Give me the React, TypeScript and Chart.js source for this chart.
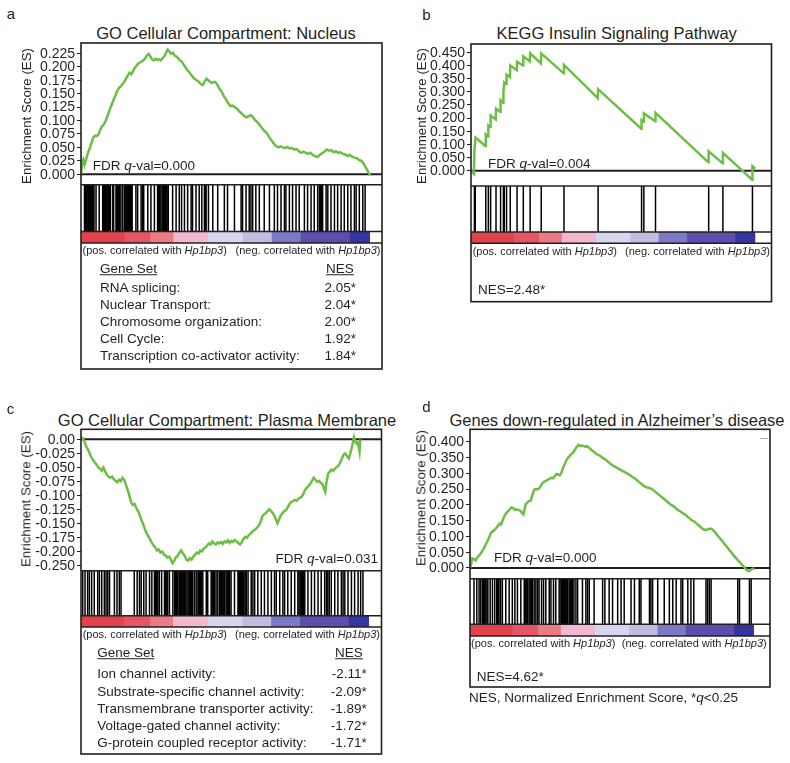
import React, { useEffect, useRef } from 'react';
import { Chart, registerables } from 'chart.js';

Chart.register(...registerables);

const FONT = '"Liberation Sans", Arial, Helvetica, sans-serif';
const CANVAS_FONT = "'Liberation Sans', Arial, sans-serif";
const INK = '#231f20';
const GREEN = '#6cbe45';

// ---------------- data ----------------
// running enrichment score: [rank in ordered gene list (0-1000), ES]
const esA: [number, number][] = [
  [0, 0.0], [4, 0.024], [8, 0.028], [12, 0.018], [18, 0.028], [24, 0.04], [30, 0.048], [36, 0.058], [42, 0.068], [48, 0.072],
  [54, 0.071], [60, 0.074], [66, 0.082], [72, 0.089], [78, 0.092], [84, 0.098], [90, 0.106], [96, 0.115], [102, 0.124], [108, 0.132],
  [114, 0.14], [120, 0.148], [126, 0.156], [132, 0.161], [138, 0.164], [144, 0.168], [150, 0.172], [156, 0.178], [162, 0.184], [168, 0.189],
  [174, 0.186], [180, 0.192], [186, 0.198], [192, 0.202], [198, 0.206], [204, 0.208], [210, 0.21], [216, 0.212], [222, 0.216], [228, 0.221],
  [234, 0.224], [240, 0.219], [246, 0.214], [252, 0.212], [258, 0.215], [264, 0.213], [270, 0.214], [276, 0.212], [282, 0.216], [288, 0.219],
  [294, 0.226], [300, 0.232], [306, 0.228], [312, 0.224], [318, 0.226], [324, 0.221], [330, 0.219], [336, 0.216], [342, 0.212], [348, 0.21],
  [354, 0.205], [360, 0.2], [368, 0.194], [376, 0.189], [384, 0.183], [392, 0.178], [400, 0.175], [408, 0.172], [416, 0.167], [422, 0.166],
  [428, 0.173], [434, 0.178], [440, 0.175], [446, 0.172], [452, 0.17], [458, 0.171], [464, 0.172], [470, 0.168], [478, 0.16], [486, 0.154],
  [494, 0.146], [502, 0.139], [510, 0.132], [516, 0.127], [524, 0.128], [532, 0.125], [540, 0.122], [548, 0.117], [556, 0.113], [564, 0.109],
  [572, 0.106], [580, 0.108], [588, 0.11], [594, 0.107], [602, 0.101], [610, 0.097], [618, 0.092], [626, 0.086], [634, 0.081], [642, 0.077],
  [650, 0.07], [658, 0.064], [666, 0.058], [674, 0.053], [682, 0.05], [690, 0.052], [698, 0.05], [706, 0.049], [714, 0.051], [722, 0.048],
  [730, 0.049], [738, 0.046], [746, 0.047], [754, 0.043], [762, 0.04], [770, 0.042], [778, 0.04], [786, 0.038], [794, 0.04], [802, 0.036],
  [810, 0.034], [818, 0.032], [826, 0.036], [834, 0.039], [842, 0.042], [850, 0.046], [858, 0.044], [866, 0.045], [874, 0.041], [882, 0.043],
  [890, 0.04], [898, 0.041], [906, 0.038], [914, 0.037], [922, 0.034], [930, 0.036], [938, 0.033], [946, 0.031], [954, 0.03], [962, 0.027],
  [970, 0.025], [978, 0.02], [986, 0.012], [994, 0.004], [1000, -0.002],
];

const esB: [number, number][] = [
  [0, 0.0], [10, -0.012], [12, 0.078], [16, 0.126], [50, 0.094], [52, 0.138], [60, 0.13], [61, 0.172], [68, 0.166], [69, 0.21],
  [87, 0.195], [88, 0.236], [103, 0.224], [104, 0.268], [113, 0.258], [114, 0.3], [117, 0.336], [124, 0.33], [125, 0.365], [137, 0.356],
  [138, 0.4], [161, 0.382], [162, 0.414], [183, 0.4], [184, 0.434], [207, 0.416], [208, 0.446], [246, 0.408], [247, 0.446], [326, 0.37],
  [327, 0.402], [446, 0.276], [447, 0.31], [599, 0.16], [600, 0.192], [607, 0.186], [608, 0.218], [648, 0.188], [649, 0.22], [835, 0.032],
  [836, 0.074], [885, 0.028], [886, 0.068], [989, -0.034], [990, 0.018], [1000, 0.008],
];

const esC: [number, number][] = [
  [0, 0.0], [6, 0.002], [12, -0.004], [18, -0.014], [24, -0.02], [30, -0.028], [36, -0.036], [42, -0.041], [48, -0.046], [54, -0.05],
  [60, -0.056], [66, -0.058], [72, -0.062], [78, -0.056], [84, -0.064], [90, -0.07], [96, -0.074], [102, -0.076], [108, -0.074], [114, -0.079],
  [120, -0.082], [126, -0.085], [132, -0.08], [138, -0.083], [144, -0.076], [150, -0.08], [156, -0.09], [162, -0.1], [168, -0.112], [174, -0.124],
  [180, -0.13], [186, -0.128], [192, -0.136], [198, -0.142], [204, -0.15], [210, -0.16], [216, -0.168], [222, -0.178], [228, -0.186], [234, -0.192],
  [240, -0.198], [246, -0.205], [252, -0.21], [258, -0.214], [264, -0.22], [270, -0.218], [276, -0.224], [282, -0.222], [288, -0.228], [294, -0.23],
  [300, -0.234], [306, -0.232], [312, -0.238], [318, -0.245], [324, -0.24], [330, -0.233], [336, -0.23], [342, -0.224], [348, -0.22], [354, -0.226],
  [360, -0.23], [366, -0.238], [372, -0.24], [378, -0.235], [384, -0.238], [390, -0.232], [396, -0.228], [402, -0.224], [408, -0.226], [414, -0.22],
  [420, -0.222], [426, -0.216], [432, -0.214], [438, -0.21], [444, -0.206], [450, -0.208], [456, -0.202], [462, -0.206], [468, -0.208], [474, -0.204],
  [480, -0.206], [486, -0.203], [492, -0.207], [498, -0.202], [504, -0.204], [510, -0.2], [516, -0.205], [522, -0.201], [528, -0.203], [534, -0.199],
  [540, -0.202], [546, -0.205], [552, -0.208], [558, -0.204], [564, -0.197], [570, -0.193], [576, -0.195], [582, -0.19], [588, -0.187], [594, -0.183],
  [600, -0.18], [606, -0.178], [612, -0.174], [618, -0.17], [624, -0.162], [630, -0.152], [636, -0.148], [642, -0.146], [648, -0.142], [654, -0.138],
  [660, -0.142], [666, -0.146], [672, -0.152], [678, -0.16], [682, -0.166], [688, -0.158], [694, -0.15], [700, -0.146], [706, -0.142], [712, -0.14],
  [718, -0.134], [724, -0.128], [730, -0.124], [736, -0.122], [742, -0.12], [748, -0.122], [754, -0.118], [760, -0.116], [766, -0.114], [772, -0.108],
  [778, -0.1], [784, -0.096], [790, -0.092], [796, -0.088], [802, -0.082], [808, -0.076], [814, -0.08], [820, -0.084], [826, -0.082], [832, -0.086],
  [838, -0.088], [844, -0.098], [848, -0.104], [852, -0.086], [858, -0.068], [864, -0.064], [870, -0.06], [876, -0.062], [882, -0.058], [888, -0.055],
  [894, -0.052], [900, -0.046], [906, -0.038], [912, -0.03], [918, -0.028], [924, -0.034], [930, -0.038], [936, -0.026], [942, -0.012], [948, 0.004],
  [952, -0.004], [956, -0.008], [960, -0.006], [964, -0.014], [967, -0.024], [970, 0.0],
];

const esD: [number, number][] = [
  [0, 0.0], [4, 0.012], [8, 0.03], [14, 0.028], [20, 0.024], [26, 0.034], [32, 0.04], [38, 0.046], [44, 0.056], [50, 0.064],
  [56, 0.076], [62, 0.086], [68, 0.098], [74, 0.112], [80, 0.116], [86, 0.12], [92, 0.126], [98, 0.134], [104, 0.14], [110, 0.138],
  [116, 0.154], [122, 0.166], [128, 0.174], [134, 0.18], [140, 0.186], [146, 0.192], [152, 0.19], [158, 0.184], [164, 0.186], [170, 0.184],
  [176, 0.182], [182, 0.176], [188, 0.17], [192, 0.186], [196, 0.202], [202, 0.208], [208, 0.212], [214, 0.214], [220, 0.232], [226, 0.248],
  [232, 0.25], [238, 0.249], [244, 0.252], [250, 0.262], [256, 0.27], [262, 0.274], [268, 0.276], [274, 0.28], [280, 0.282], [286, 0.286],
  [292, 0.284], [298, 0.29], [304, 0.298], [310, 0.296], [316, 0.294], [322, 0.302], [328, 0.318], [334, 0.33], [340, 0.342], [346, 0.35],
  [352, 0.356], [358, 0.362], [364, 0.366], [370, 0.376], [376, 0.384], [382, 0.39], [388, 0.386], [394, 0.388], [400, 0.386], [406, 0.384],
  [412, 0.386], [418, 0.382], [424, 0.377], [430, 0.372], [436, 0.368], [444, 0.362], [452, 0.358], [460, 0.354], [468, 0.348], [476, 0.344],
  [484, 0.338], [492, 0.332], [500, 0.326], [508, 0.322], [516, 0.318], [524, 0.314], [532, 0.31], [540, 0.306], [548, 0.302], [556, 0.298],
  [564, 0.294], [572, 0.288], [580, 0.284], [588, 0.278], [596, 0.272], [604, 0.266], [612, 0.26], [620, 0.256], [628, 0.254], [636, 0.252],
  [644, 0.248], [652, 0.242], [660, 0.236], [668, 0.23], [676, 0.224], [684, 0.218], [692, 0.212], [700, 0.206], [708, 0.2], [716, 0.196],
  [724, 0.19], [732, 0.184], [740, 0.18], [748, 0.174], [756, 0.17], [764, 0.164], [772, 0.158], [780, 0.152], [788, 0.148], [796, 0.142],
  [804, 0.136], [812, 0.13], [820, 0.124], [828, 0.12], [836, 0.122], [844, 0.124], [850, 0.124], [856, 0.12], [864, 0.112], [872, 0.102],
  [880, 0.094], [888, 0.086], [896, 0.076], [904, 0.068], [912, 0.058], [920, 0.05], [928, 0.04], [936, 0.032], [944, 0.024], [952, 0.016],
  [960, 0.008], [968, 0.0], [976, -0.008], [982, -0.01], [988, -0.006], [994, -0.004], [1000, 0.0],
];

// gene-set members (hits) along the ranked list
const hitsA = [
  12, 15, 18, 21, 24, 27, 30, 33, 36, 39, 42, 45, 52, 63, 75, 78, 81, 84, 87, 90, 93, 96, 99, 102, 110, 113, 121, 124, 127, 130,
  133, 138, 144, 150, 153, 156, 159, 162, 165, 168, 171, 174, 177, 190, 196, 208, 213, 217, 231, 242, 254, 265, 268, 271, 274, 280,
  283, 286, 289, 292, 295, 298, 302, 317, 329, 340, 348, 358, 369, 381, 386, 398, 409, 418, 427, 430, 433, 441, 456, 473, 496, 507,
  531, 554, 559, 571, 582, 588, 594, 605, 617, 634, 652, 669, 680, 692, 704, 709, 721, 732, 744, 755, 773, 784, 796, 807, 819, 825,
  829, 833, 836, 848, 854, 865, 877, 888, 900, 911, 923, 934, 946, 952, 963, 975, 983,
];
const hitsB = [12, 15, 52, 61, 69, 88, 104, 114, 117, 125, 138, 162, 184, 208, 247, 327, 447, 600, 608, 649, 836, 886, 990];
const hitsC = [
  6, 14, 23, 29, 37, 46, 58, 64, 72, 81, 87, 93, 99, 116, 125, 133, 139, 185, 195, 203, 209, 218, 226, 238, 246, 255, 258, 261, 264,
  267, 272, 280, 290, 294, 298, 301, 307, 319, 325, 328, 331, 334, 337, 342, 345, 348, 351, 354, 357, 360, 364, 368, 372, 376, 380,
  384, 388, 394, 400, 406, 409, 412, 415, 418, 423, 435, 440, 452, 455, 458, 461, 464, 469, 475, 481, 484, 487, 490, 493, 496, 499,
  504, 508, 512, 516, 521, 533, 545, 548, 551, 554, 557, 560, 563, 566, 570, 574, 580, 591, 597, 603, 614, 626, 637, 649, 661, 672,
  678, 690, 701, 707, 718, 730, 742, 753, 757, 761, 765, 769, 773, 777, 788, 800, 811, 823, 834, 846, 852, 857, 862, 869, 881, 892,
  904, 910, 916, 927, 939, 950, 962, 971, 979,
];
const hitsD = [
  14, 24, 32, 38, 44, 47, 50, 53, 56, 60, 63, 71, 79, 87, 94, 97, 100, 102, 108, 114, 126, 138, 149, 158, 167, 179, 191, 194, 197,
  200, 203, 208, 212, 216, 220, 226, 232, 238, 243, 252, 259, 267, 279, 285, 294, 302, 314, 320, 323, 326, 329, 332, 335, 338, 341,
  344, 349, 353, 357, 361, 366, 373, 379, 396, 408, 414, 420, 437, 467, 475, 490, 502, 520, 532, 543, 567, 579, 596, 602, 632, 637,
  643, 661, 684, 702, 714, 726, 743, 749, 767, 778, 788, 831, 837, 843, 849, 943, 949, 984, 990,
];

// y tick labels (as printed, low to high)
const ticksA = ['0.000', '0.025', '0.050', '0.075', '0.100', '0.125', '0.150', '0.175', '0.200', '0.225'];
const ticksB = ['0.000', '0.050', '0.100', '0.150', '0.200', '0.250', '0.300', '0.350', '0.400', '0.450'];
const ticksC = ['-0.250', '-0.200', '-0.175', '-0.150', '-0.125', '-0.100', '-0.075', '-0.050', '-0.025', '0.00'];
const ticksD = ['0.000', '0.050', '0.100', '0.150', '0.200', '0.250', '0.300', '0.350', '0.400'];

// ranked-list colour bar (block start ranks and colours)
const colorBlockStarts = [0, 150, 240, 320, 440, 560, 660, 760, 930];
const colorBlockColors = ['#e2434b', '#e65565', '#ec7a84', '#f2b8d2', '#d8d6ee', '#c2bce0', '#7c7ac4', '#5a4eae', '#3434a2'];

const geneSetsA = ['RNA splicing:', 'Nuclear Transport:', 'Chromosome organization:', 'Cell Cycle:', 'Transcription co-activator activity:'];
const nesA = ['2.05*', '2.04*', '2.00*', '1.92*', '1.84*'];
const geneSetsC = [
  'Ion channel activity:',
  'Substrate-specific channel activity:',
  'Transmembrane transporter activity:',
  'Voltage-gated channel activity:',
  'G-protein coupled receptor activity:',
];
const nesC = ['-2.11*', '-2.09*', '-1.89*', '-1.72*', '-1.71*'];

// ---------------- layout ----------------
type Geo = {
  boxLeft: number; boxRight: number; boxTop: number; esBottom: number; hitsBottom: number;
  barBottom: number; boxBottom: number; yMin: number; yMax: number; xMax: number;
};

const geoA: Geo = { boxLeft: 81, boxRight: 382, boxTop: 43, esBottom: 184.7, hitsBottom: 231.5, barBottom: 243, boxBottom: 369, yMin: -0.0193, yMax: 0.2442, xMax: 1041.5 };
const geoB: Geo = { boxLeft: 471, boxRight: 771.5, boxTop: 44, esBottom: 186, hitsBottom: 232, barBottom: 243.3, boxBottom: 301.7, yMin: -0.058, yMax: 0.4816, xMax: 1057 };
const geoC: Geo = { boxLeft: 81, boxRight: 381.5, boxTop: 429.3, esBottom: 570.7, hitsBottom: 615.7, barBottom: 627, boxBottom: 754, yMin: -0.2599, yMax: 0.0198, xMax: 1043.4 };
const geoD: Geo = { boxLeft: 470, boxRight: 770, boxTop: 429.3, esBottom: 578.7, hitsBottom: 624.3, barBottom: 636, boxBottom: 687, yMin: -0.0339, yMax: 0.4393, xMax: 1056.4 };

const AXIS_W = 81;
const TICK_LEN = 4;
const TICK_FONT_PX = 14;

function GseaChart({ es, hits, labels, geo }: { es: [number, number][]; hits: number[]; labels: string[]; geo: Geo }) {
  const ref = useRef<HTMLCanvasElement>(null);
  const cLeft = geo.boxLeft - AXIS_W;
  const cTop = Math.round(geo.boxTop) - 14;
  const padTop = geo.boxTop - cTop;
  const cW = Math.ceil(geo.boxRight - cLeft) + 3;
  const cH = Math.ceil(geo.boxBottom - cTop) + 3;

  useEffect(() => {
    if (!ref.current) return;
    const rel = (y: number) => y - cTop;
    const lo = parseFloat(labels[0]);
    const hi = parseFloat(labels[labels.length - 1]);

    const decor = {
      id: 'gseaDecor',
      beforeDatasetsDraw(chart: any) {
        const { ctx, chartArea: a, scales } = chart;
        const y0 = scales.y.getPixelForValue(0);
        ctx.save();
        ctx.strokeStyle = INK;
        ctx.lineWidth = 2;
        ctx.beginPath();
        ctx.moveTo(a.left, y0);
        ctx.lineTo(a.right, y0);
        ctx.stroke();
        ctx.restore();
      },
      afterDraw(chart: any) {
        const { ctx, chartArea: a, scales } = chart;
        const xs = scales.x;
        const ys = scales.y;
        const hb = rel(geo.hitsBottom);
        const bb = rel(geo.barBottom);
        const ob = rel(geo.boxBottom);
        ctx.save();
        // colour bar of the ranked list
        colorBlockStarts.forEach((s, i) => {
          const e = i + 1 < colorBlockStarts.length ? colorBlockStarts[i + 1] : 1000;
          const x1 = xs.getPixelForValue(s);
          const x2 = xs.getPixelForValue(e);
          ctx.fillStyle = colorBlockColors[i];
          ctx.fillRect(x1, hb, x2 - x1 + (i + 1 < colorBlockStarts.length ? 0.6 : 0), bb - hb);
        });
        // hits
        ctx.strokeStyle = '#000';
        ctx.lineWidth = 1.5;
        hits.forEach((h) => {
          const x = xs.getPixelForValue(h);
          ctx.beginPath();
          ctx.moveTo(x, a.bottom);
          ctx.lineTo(x, hb);
          ctx.stroke();
        });
        // frame
        ctx.strokeStyle = INK;
        ctx.lineWidth = 1.6;
        ctx.strokeRect(a.left, a.top, a.right - a.left, ob - a.top);
        [a.bottom, hb, bb].forEach((y) => {
          ctx.beginPath();
          ctx.moveTo(a.left, y);
          ctx.lineTo(a.right, y);
          ctx.stroke();
        });
        // y tick labels, placed at the scale's tick positions
        ctx.fillStyle = INK;
        ctx.font = `${TICK_FONT_PX}px ${CANVAS_FONT}`;
        ctx.textAlign = 'right';
        ctx.textBaseline = 'middle';
        ys.ticks.forEach((t: any, i: number) => {
          const y = ys.getPixelForValue(t.value);
          ctx.fillText(labels[i], a.left - TICK_LEN - 2, y + 0.5);
        });
        ctx.restore();
      },
    };

    const chart = new Chart(ref.current, {
      type: 'line',
      data: {
        datasets: [
          {
            data: es.map(([x, y]) => ({ x, y })),
            borderColor: GREEN,
            borderWidth: 2.5,
            pointRadius: 0,
            tension: 0,
            fill: false,
          },
        ],
      },
      options: {
        animation: false,
        responsive: false,
        maintainAspectRatio: false,
        layout: { padding: { left: 0, top: padTop, right: cW - (geo.boxRight - cLeft), bottom: cH - rel(geo.esBottom) } },
        plugins: { legend: { display: false }, tooltip: { enabled: false } },
        scales: {
          x: { type: 'linear', display: false, min: 0, max: geo.xMax },
          y: {
            type: 'linear',
            min: geo.yMin,
            max: geo.yMax,
            afterFit: (s: any) => {
              s.width = AXIS_W;
            },
            afterBuildTicks: (s: any) => {
              s.ticks = labels.map((_, i) => ({ value: lo + (i * (hi - lo)) / (labels.length - 1) }));
            },
            ticks: { display: false, autoSkip: false },
            grid: { display: true, drawOnChartArea: false, drawTicks: true, tickLength: TICK_LEN, color: INK, tickColor: INK, tickWidth: 1 },
            border: { display: false },
          },
        },
      } as any,
      plugins: [decor],
    });
    return () => chart.destroy();
  }, []);

  return (
    <canvas
      ref={ref}
      width={cW}
      height={cH}
      style={{ position: 'absolute', left: cLeft, top: cTop, width: cW, height: cH }}
    />
  );
}

type TP = { x: number; y: number; size?: number; align?: 'left' | 'center' | 'right'; children: React.ReactNode; style?: React.CSSProperties };
const T = ({ x, y, size = 13.5, align = 'left', children, style }: TP) => {
  const tx = align === 'left' ? '0' : align === 'center' ? '-50%' : '-100%';
  return (
    <div
      style={{
        position: 'absolute', left: x, top: y, transform: `translate(${tx}, -50%)`, fontSize: size, lineHeight: 1,
        whiteSpace: 'nowrap', fontFamily: FONT, color: INK, ...style,
      }}
    >
      {children}
    </div>
  );
};

const YTitle = ({ x, y }: { x: number; y: number }) => (
  <div
    style={{
      position: 'absolute', left: x, top: y, transform: 'translate(-50%, -50%) rotate(-90deg)', fontSize: 13.3,
      lineHeight: 1, whiteSpace: 'nowrap', fontFamily: FONT, color: INK,
    }}
  >
    Enrichment Score (ES)
  </div>
);

const PosNeg = ({ left, right, y }: { left: number; right: number; y: number }) => (
  <>
    <T x={left} y={y} size={11}>(pos. correlated with <i>Hp1bp3</i>)</T>
    <T x={right} y={y} size={11} align="right">(neg. correlated with <i>Hp1bp3</i>)</T>
  </>
);

const Table = ({ names, nes, left, nesCenter, nesRight, headY, rowY, rowStep }: {
  names: string[]; nes: string[]; left: number; nesCenter: number; nesRight: number; headY: number; rowY: number; rowStep: number;
}) => (
  <>
    <T x={left} y={headY} style={{ textDecoration: 'underline' }}>Gene Set</T>
    <T x={nesCenter} y={headY} align="center" style={{ textDecoration: 'underline' }}>NES</T>
    {names.map((n, i) => (
      <React.Fragment key={n}>
        <T x={left} y={rowY + i * rowStep}>{n}</T>
        <T x={nesRight} y={rowY + i * rowStep} align="right">{nes[i]}</T>
      </React.Fragment>
    ))}
  </>
);

export default function App() {
  return (
    <div
      style={{
        position: 'absolute', left: 0, top: 0, width: 790, height: 763, background: '#fff', overflow: 'hidden',
        fontFamily: FONT, color: INK,
      }}
    >
      {/* panel a */}
      <T x={11} y={13} size={15} align="center">a</T>
      <T x={226} y={33} size={16.5} align="center">GO Cellular Compartment: Nucleus</T>
      <GseaChart es={esA} hits={hitsA} labels={ticksA} geo={geoA} />
      <YTitle x={27} y={116} />
      <T x={92.7} y={165.7}>FDR <i>q</i>-val=0.000</T>
      <PosNeg left={82.5} right={380.5} y={250} />
      <Table names={geneSetsA} nes={nesA} left={100} nesCenter={340} nesRight={356} headY={269} rowY={288.3} rowStep={17} />

      {/* panel b */}
      <T x={426.5} y={14} size={15} align="center">b</T>
      <T x={616.7} y={33} size={16.5} align="center">KEGG Insulin Signaling Pathway</T>
      <GseaChart es={esB} hits={hitsB} labels={ticksB} geo={geoB} />
      <YTitle x={421.7} y={116} />
      <T x={488} y={164}>FDR <i>q</i>-val=0.004</T>
      <PosNeg left={472.7} right={770} y={251} />
      <T x={478} y={290}>NES=2.48*</T>

      {/* panel c */}
      <T x={10.5} y={407.5} size={15} align="center">c</T>
      <T x={227} y={420} size={16.5} align="center">GO Cellular Compartment: Plasma Membrane</T>
      <GseaChart es={esC} hits={hitsC} labels={ticksC} geo={geoC} />
      <YTitle x={26} y={498.5} />
      <T x={378} y={559} align="right">FDR <i>q</i>-val=0.031</T>
      <PosNeg left={82.7} right={380} y={634.3} />
      <Table names={geneSetsC} nes={nesC} left={97.3} nesCenter={349} nesRight={366.7} headY={653.3} rowY={674.3} rowStep={17.2} />

      {/* panel d */}
      <T x={426.5} y={406} size={15} align="center">d</T>
      <T x={617} y={420} size={16.5} align="center">Genes down-regulated in Alzheimer’s disease</T>
      <GseaChart es={esD} hits={hitsD} labels={ticksD} geo={geoD} />
      <div style={{ position: 'absolute', left: 760, top: 437.8, width: 8, height: 1, background: '#b0b0b0' }} />
      <YTitle x={421} y={498} />
      <T x={494} y={558}>FDR <i>q</i>-val=0.000</T>
      <PosNeg left={471} right={766.7} y={643.3} />
      <T x={476.7} y={676.7}>NES=4.62*</T>
      <T x={469} y={698}>NES, Normalized Enrichment Score, *<i>q</i>&lt;0.25</T>
    </div>
  );
}
